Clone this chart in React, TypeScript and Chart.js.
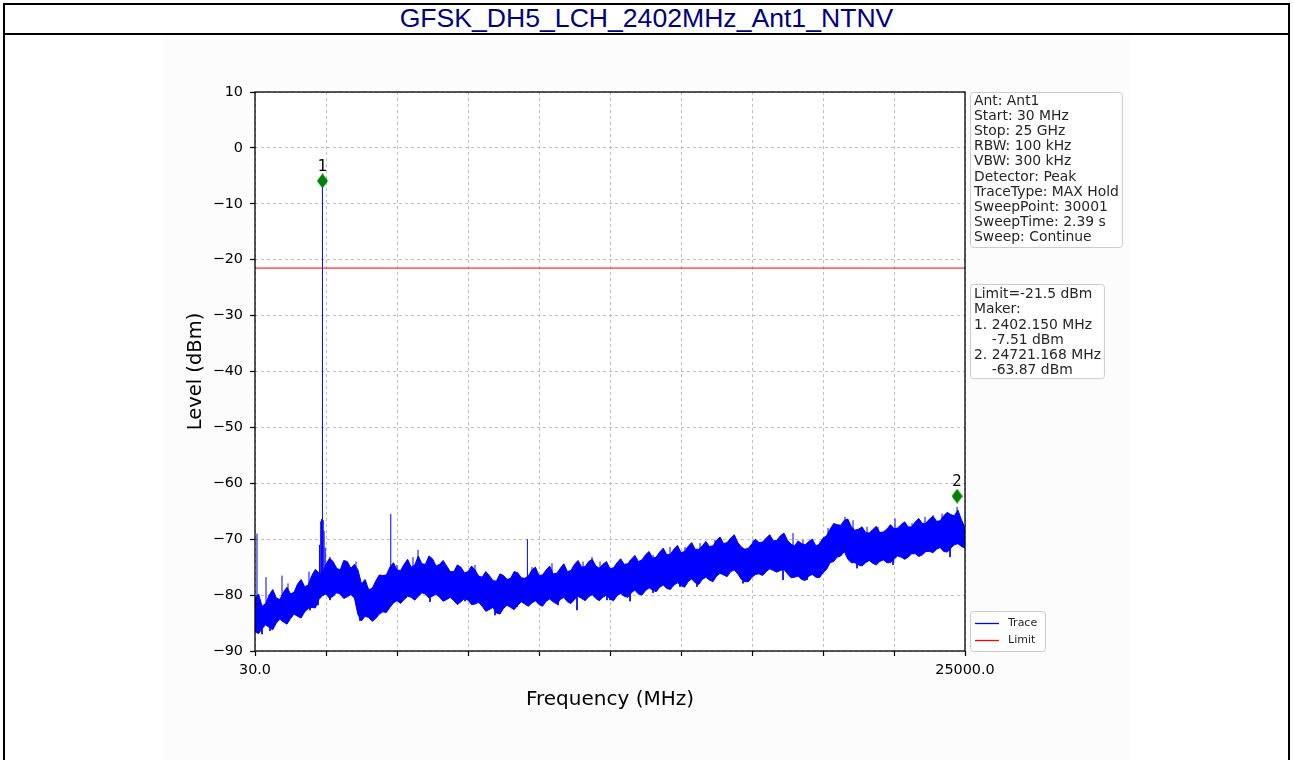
import React, { useEffect, useRef } from 'react';
import { Chart, registerables } from 'chart.js';
Chart.register(...registerables);

const TITLE = 'GFSK_DH5_LCH_2402MHz_Ant1_NTNV';
const X_LABEL = 'Frequency (MHz)';
const Y_LABEL = 'Level (dBm)';
const FREQ_START = 30;
const FREQ_STOP = 25000;
const X_TICKS = [30, 2527, 5024, 7521, 10018, 12515, 15012, 17509, 20006, 22503, 25000];
const X_TICK_LABELS = ['30.0', '', '', '', '', '', '', '', '', '', '25000.0'];
const Y_TICKS = [10, 0, -10, -20, -30, -40, -50, -60, -70, -80, -90];
const LIMIT = -21.5;

// envelope of the max-hold trace, 101 evenly spaced points from start to stop
const TRACE_UPPER = [
  -80.5, -82, -80, -80.5, -79.5, -79.8, -78, -78.5, -76.5, -76,
  -74.5, -74, -75.5, -74, -74.5, -78, -79, -77.5, -76.5, -75,
  -75.5, -74.5, -75, -73, -74.5, -73.5, -74.5, -74.8, -75.8, -75,
  -75.8, -75.5, -76.8, -76.5, -77.5, -76.5, -77, -76, -77, -75.5,
  -76.5, -75.5, -76.2, -75.2, -75.8, -74.5, -75, -74, -74.8, -74.5,
  -75.3, -74.2, -74.5, -73.6, -74, -72.8, -73.4, -72.3, -72.8, -71.8,
  -72.4, -71.3, -71.8, -71.2, -71.3, -70.2, -70.8, -69.8, -70.6, -71.8,
  -70.8, -70.6, -69.8, -70.3, -69.4, -70.2, -71.2, -70.8, -70.4, -71.2,
  -69.8, -68.2, -67.4, -66.6, -67.8, -68.2, -68.8, -68.3, -68.8, -68.2,
  -68.1, -67.4, -67.8, -66.9, -67.2, -66.4, -66.8, -65.8, -65.6, -64.8,
  -68,
];
// upper envelope half-way between the points above
const TRACE_UPPER_MID = [
  -79.8, -81.5, -79, -80.8, -78.6, -79.5, -77.2, -78.2, -75.4, -76.2,
  -73.4, -75.2, -73.8, -75.2, -75.5, -77.2, -78.8, -76.4, -76.4, -74.2,
  -75.6, -73.6, -74.6, -74.4, -73, -74.8, -73.8, -75.8, -74.6, -76,
  -74.8, -76.6, -75.8, -77.4, -76.2, -77.2, -75.8, -76.9, -76.6, -75,
  -76.4, -74.8, -76.1, -74.4, -75.6, -73.8, -74.9, -73.6, -75.2, -74,
  -75.1, -73.5, -74.4, -72.9, -73.7, -72.2, -73.2, -71.6, -72.7, -71.1,
  -72.2, -70.6, -71.8, -70.4, -71.2, -69.6, -70.6, -69.2, -71.4, -71.6,
  -70, -70.5, -69.2, -70.2, -68.9, -70.9, -70.3, -71, -70, -70.9,
  -69.4, -67.2, -67.5, -66.4, -68.4, -67.8, -68.9, -67.7, -68.7, -67.4,
  -68, -66.9, -67.8, -66.3, -67.1, -65.9, -66.7, -65.2, -65.8, -66.5,
];
const TRACE_LOWER = [
  -86.5, -86, -85.8, -85, -84.8, -84.2, -83.8, -83, -82.2, -80.8,
  -79.8, -80.2, -79.8, -80.3, -80.5, -84.6, -84, -84.2, -83, -82.2,
  -81, -80.8, -80.4, -80.2, -79.8, -80.2, -80.4, -80.8, -81, -81.2,
  -80.9, -81.6, -82, -82.6, -83.2, -82.4, -82.2, -81.8, -81.6, -81.4,
  -81.7, -81.1, -81.2, -80.8, -81.2, -80.8, -80.6, -80.3, -80.6, -80.4,
  -80.7, -80.1, -80.2, -79.6, -79.8, -79.2, -79.1, -78.6, -78.8, -78.2,
  -78.3, -77.6, -77.8, -77.2, -77.3, -76.6, -76.4, -75.8, -76.2, -77.6,
  -76.8, -76.2, -75.8, -75.6, -75.6, -76.2, -76.8, -77.2, -76.6, -76.8,
  -76, -74.2, -73.2, -72.2, -74.2, -74.6, -74.2, -74.3, -74, -74.2,
  -73.6, -73.2, -73.2, -72.6, -72.8, -72.2, -71.8, -72.2, -71.6, -70.8,
  -71.6,
];
// lower envelope half-way between the points above
const TRACE_LOWER_MID = [
  -86.9, -85.3, -86.2, -84.3, -85.2, -83.4, -84.1, -82.4, -82.3, -80.1,
  -80.6, -79.6, -80.6, -79.9, -83.5, -83.8, -84.7, -83.4, -83.1, -81.4,
  -81.5, -80.2, -80.9, -79.6, -80.5, -79.8, -81.1, -80.4, -81.7, -80.6,
  -81.7, -81.3, -82.9, -82.2, -83.4, -81.8, -82.6, -81.2, -82, -81,
  -82, -80.7, -81.6, -80.4, -81.5, -80.2, -81, -79.9, -81, -80,
  -81, -79.7, -80.4, -79.1, -80, -78.7, -79.4, -78.2, -79, -77.8,
  -78.6, -77.1, -78.1, -76.8, -77.6, -76.1, -76.7, -75.5, -77.2, -77.6,
  -76.3, -76.5, -75.3, -75.9, -75.4, -76.9, -76.6, -77.4, -76.3, -76.9,
  -75.4, -74, -73, -73.6, -74.2, -74.8, -73.8, -74.6, -73.7, -74.2,
  -73, -73.6, -72.6, -73.1, -72.2, -72.4, -71.5, -72.3, -71, -71.3,
];

// narrow peaks above the noise floor
const SPIKE_FREQ = [
  100, 2300, 2340, 2370, 2402.15, 2430, 2460, 2500, 4805, 9610, 24721,
  417, 663, 980, 1191, 1929, 2668, 3195, 3582, 4356, 5024, 5376, 5587, 5763, 6185, 6466,
  7240, 7767, 9245, 9772, 10475, 11566, 11882, 12164, 13219, 14028, 14626, 15153, 15681,
  16208, 16806, 17545, 17967, 18600, 18952, 19303, 19901, 20183, 20780, 21062, 21554,
  21941, 22539, 23137, 23594, 23875, 24192,
];
const SPIKE_PEAK = [
  -69, -71, -66.8, -66.4, -5.9, -66.6, -68.5, -71.5, -65.5, -70, -64.2,
  -76.8, -79.6, -76.5, -77.9, -75.8, -73.2, -74, -74, -76.8, -74.6, -74, -73.2, -71.9, -74.3, -74.6,
  -75.2, -74.6, -76.8, -75, -74.3, -74, -73.2, -74, -73.7, -72.8, -71.4, -71.4, -70.7,
  -70.1, -69.8, -70.1, -70.4, -69.2, -68.9, -70.1, -70.4, -68, -66, -66.6, -67.8,
  -67.8, -66.3, -67.1, -66, -65.7, -65.4,
];
// narrow dips below the noise floor
const DIP_FREQ = [
  276, 558, 1015, 1964, 2246, 2668, 3723, 4180, 4708, 6185, 7416, 8471, 9245, 10687,
  11355, 12410, 12516, 13219, 14028, 14977, 15575, 16032, 17193, 18600, 19444, 20007,
  21203, 22469, 24474,
];
const DIP_LEVEL = [
  -87, -86.4, -84.8, -82.7, -81.8, -80.9, -84.6, -84.4, -82.1, -81.2, -81.1, -83.6, -82.1, -81.8,
  -82.7, -80.9, -80.9, -81.1, -79.6, -78.5, -78.5, -77.3, -77.9, -77.3, -77.3, -76,
  -75.2, -74.6, -73.2,
];

const MARKER_FREQ = [2402.15, 24721.168];
const MARKER_LEVEL = [-5.9, -62.3];
const MARKER_NAMES = ['1', '2'];

const INFO_LINES = [
  'Ant: Ant1', 'Start: 30 MHz', 'Stop: 25 GHz', 'RBW: 100 kHz', 'VBW: 300 kHz',
  'Detector: Peak', 'TraceType: MAX Hold', 'SweepPoint: 30001', 'SweepTime: 2.39 s', 'Sweep: Continue',
];
const MARKER_LINES = [
  'Limit=-21.5 dBm', 'Maker:', '1. 2402.150 MHz', '    -7.51 dBm', '2. 24721.168 MHz', '    -63.87 dBm',
];
const LEGEND_ITEMS = ['Trace', 'Limit'];
const LEGEND_COLORS = ['#0000ff', '#ff0000'];

const FONT = "'DejaVu Sans', sans-serif";

function envFreq(i: number) {
  return FREQ_START + ((FREQ_STOP - FREQ_START) * i) / (TRACE_UPPER.length - 1);
}

function baseAt(f: number) {
  const i = Math.round(((f - FREQ_START) / (FREQ_STOP - FREQ_START)) * (TRACE_LOWER.length - 1));
  return (TRACE_LOWER[i] + TRACE_UPPER[i]) / 2;
}

function envelope(main: number[], mid: number[]) {
  const pts: { x: number; y: number }[] = [];
  main.forEach((v, i) => {
    pts.push({ x: envFreq(i), y: v });
    if (i < mid.length) pts.push({ x: envFreq(i + 0.5), y: mid[i] });
  });
  return pts;
}

function makeDiamond() {
  const c = document.createElement('canvas');
  c.width = 11;
  c.height = 15;
  const g = c.getContext('2d')!;
  g.fillStyle = '#008000';
  g.beginPath();
  g.moveTo(5.5, 0);
  g.lineTo(11, 7.5);
  g.lineTo(5.5, 15);
  g.lineTo(0, 7.5);
  g.closePath();
  g.fill();
  return c;
}

function drawBox(ctx: CanvasRenderingContext2D, x: number, y: number, w: number, h: number) {
  ctx.save();
  ctx.beginPath();
  (ctx as any).roundRect(x + 0.5, y + 0.5, w, h, 3);
  ctx.fillStyle = 'rgba(255,255,255,0.85)';
  ctx.fill();
  ctx.strokeStyle = '#cccccc';
  ctx.lineWidth = 1;
  ctx.stroke();
  ctx.restore();
}

const decorPlugin = {
  id: 'decor',
  beforeDraw(chart: any) {
    const { ctx, chartArea: a } = chart;
    ctx.save();
    ctx.fillStyle = '#ffffff';
    ctx.fillRect(a.left, a.top, a.right - a.left, a.bottom - a.top);
    ctx.restore();
  },
  afterDatasetsDraw(chart: any) {
    const { ctx, chartArea: a, scales } = chart;
    ctx.save();
    ctx.strokeStyle = '#000';
    ctx.lineWidth = 1.3;
    ctx.strokeRect(a.left, a.top, a.right - a.left, a.bottom - a.top);
    ctx.fillStyle = '#000';
    ctx.font = `15px ${FONT}`;
    ctx.textAlign = 'center';
    ctx.textBaseline = 'middle';
    MARKER_FREQ.forEach((f, i) => {
      const x = scales.x.getPixelForValue(f);
      const y = scales.y.getPixelForValue(MARKER_LEVEL[i]);
      ctx.fillText(MARKER_NAMES[i], x, y - 14);
    });
    ctx.restore();
  },
  afterDraw(chart: any) {
    const { ctx, chartArea: a } = chart;
    ctx.save();
    ctx.font = `13.9px ${FONT}`;
    ctx.textBaseline = 'middle';
    ctx.textAlign = 'left';
    const lh = 15.2;
    const bx = a.right + 5;
    let w = Math.max(...INFO_LINES.map((t) => ctx.measureText(t).width)) + 7;
    drawBox(ctx, bx, a.top, w, INFO_LINES.length * lh + 3);
    ctx.fillStyle = '#262626';
    INFO_LINES.forEach((t, i) => ctx.fillText(t, bx + 4, a.top + 9 + i * lh));
    const my = a.top + 192;
    w = Math.max(...MARKER_LINES.map((t) => ctx.measureText(t).width)) + 7;
    drawBox(ctx, bx, my, w, MARKER_LINES.length * lh + 3);
    ctx.fillStyle = '#262626';
    MARKER_LINES.forEach((t, i) => ctx.fillText(t, bx + 4, my + 10.5 + i * lh));
    ctx.font = `11px ${FONT}`;
    const ly = a.bottom - 40;
    drawBox(ctx, bx, ly, 75, 40);
    LEGEND_ITEMS.forEach((t, i) => {
      const y = ly + 12.5 + i * 17;
      ctx.strokeStyle = LEGEND_COLORS[i];
      ctx.lineWidth = 1.3;
      ctx.beginPath();
      ctx.moveTo(bx + 5, y);
      ctx.lineTo(bx + 29, y);
      ctx.stroke();
      ctx.fillStyle = '#262626';
      ctx.fillText(t, bx + 38, y);
    });
    ctx.restore();
  },
};

export default function App() {
  const ref = useRef<HTMLCanvasElement>(null);
  useEffect(() => {
    document.body.style.margin = '0';
    const canvas = ref.current!;
    const upper = envelope(TRACE_UPPER, TRACE_UPPER_MID);
    const lower = envelope(TRACE_LOWER, TRACE_LOWER_MID);
    const spikes: any[] = [];
    SPIKE_FREQ.forEach((f, i) => {
      spikes.push({ x: f, y: baseAt(f) }, { x: f, y: SPIKE_PEAK[i] }, { x: f, y: null });
    });
    DIP_FREQ.forEach((f, i) => {
      spikes.push({ x: f, y: baseAt(f) }, { x: f, y: DIP_LEVEL[i] }, { x: f, y: null });
    });
    const markers = MARKER_FREQ.map((f, i) => ({ x: f, y: MARKER_LEVEL[i] }));
    const gridCommon = {
      color: '#b0b0b0',
      lineWidth: 0.8,
      tickColor: '#000',
      tickLength: 5,
      tickWidth: 1.2,
    };
    const chart = new Chart(canvas, {
      type: 'line',
      data: {
        datasets: [
          {
            label: 'Markers',
            data: markers,
            showLine: false,
            pointStyle: makeDiamond(),
            pointRadius: 7,
            backgroundColor: '#008000',
            borderColor: '#008000',
            borderWidth: 0,
          } as any,
          {
            label: 'Limit',
            data: [{ x: FREQ_START, y: LIMIT }, { x: FREQ_STOP, y: LIMIT }],
            borderColor: '#ff0000',
            borderWidth: 1,
            pointRadius: 0,
            fill: false,
          },
          {
            label: 'Spikes',
            data: spikes,
            borderColor: '#0000ff',
            borderWidth: 1,
            pointRadius: 0,
            spanGaps: false,
            fill: false,
          },
          {
            label: 'Trace',
            data: upper,
            borderColor: '#0000ff',
            backgroundColor: '#0000ff',
            borderWidth: 1,
            pointRadius: 0,
            fill: '+1',
          },
          {
            label: 'TraceLow',
            data: lower,
            borderColor: '#0000ff',
            borderWidth: 1,
            pointRadius: 0,
            fill: false,
          },
        ],
      },
      options: {
        responsive: false,
        animation: false,
        devicePixelRatio: 1,
        layout: { padding: { left: 0, right: 328, top: 92, bottom: 0 } },
        plugins: { legend: { display: false }, tooltip: { enabled: false }, title: { display: false } },
        scales: {
          x: {
            type: 'linear',
            min: FREQ_START,
            max: FREQ_STOP,
            afterBuildTicks: (s: any) => {
              s.ticks = X_TICKS.map((v) => ({ value: v }));
            },
            afterFit: (s: any) => {
              s.height = 109;
            },
            ticks: {
              autoSkip: false,
              maxRotation: 0,
              padding: 6,
              color: '#000',
              font: { family: FONT, size: 14.4 },
              callback: (_v: any, i: number) => X_TICK_LABELS[i],
            },
            grid: gridCommon,
            border: { display: false, dash: [3, 3] },
            title: {
              display: true,
              text: X_LABEL,
              color: '#000',
              font: { family: FONT, size: 20 },
              padding: { top: 0, bottom: 48 },
            },
          },
          y: {
            type: 'linear',
            min: -90,
            max: 10,
            afterBuildTicks: (s: any) => {
              s.ticks = Y_TICKS.map((v) => ({ value: v }));
            },
            afterFit: (s: any) => {
              s.width = 255;
            },
            ticks: {
              padding: 7,
              color: '#000',
              font: { family: FONT, size: 14.4 },
              callback: (v: any) => (v < 0 ? '\u2212' + Math.abs(v) : String(v)),
            },
            grid: gridCommon,
            border: { display: false, dash: [3, 3] },
            title: {
              display: true,
              text: Y_LABEL,
              color: '#000',
              font: { family: FONT, size: 19.5 },
              padding: { top: 184, bottom: 0 },
            },
          },
        },
      },
      plugins: [decorPlugin],
    } as any);
    return () => chart.destroy();
  }, []);

  return (
    <div style={{ position: 'fixed', left: 0, top: 0, width: 1293, height: 760, overflow: 'hidden', background: '#fff' }}>
      <div style={{ position: 'absolute', left: 163, top: 36, width: 967, height: 724, background: '#fcfcfc' }} />
      <div
        style={{
          position: 'absolute', left: 3, top: 3, width: 1283, height: 800,
          border: '2px solid #000', boxSizing: 'content-box',
        }}
      />
      <div
        style={{
          position: 'absolute', left: 3, top: 3, width: 1287, height: 30,
          borderBottom: '2px solid #000', display: 'flex', alignItems: 'center', justifyContent: 'center',
          fontFamily: "'Liberation Sans', Arial, sans-serif", fontSize: 26.6, color: '#000080',
        }}
      >
        {TITLE}
      </div>
      <canvas ref={ref} width={1293} height={760} style={{ position: 'absolute', left: 0, top: 0 }} />
    </div>
  );
}
